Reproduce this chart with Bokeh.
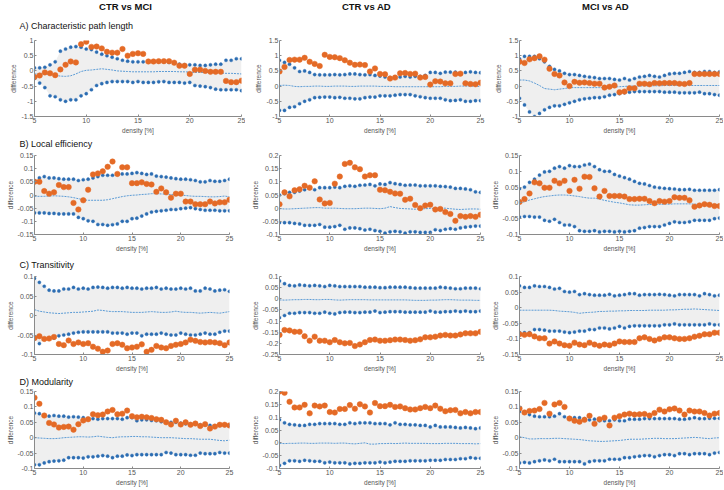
from bokeh.plotting import figure
from bokeh.layouts import column, row
from bokeh.models import Range1d, FixedTicker
from bokeh.core.properties import value
from bokeh.embed import file_html
from bokeh.resources import INLINE

# ---------------- data ----------------
DENSITY = [5, 5.5, 6, 6.5, 7, 7.5, 8, 8.5, 9, 9.5,
           10, 10.5, 11, 11.5, 12, 12.5, 13, 13.5, 14, 14.5,
           15, 15.5, 16, 16.5, 17, 17.5, 18, 18.5, 19, 19.5,
           20, 20.5, 21, 21.5, 22, 22.5, 23, 23.5, 24, 24.5, 25]
X_TICKS = [5, 10, 15, 20, 25]
COL_TITLES = ["CTR vs MCI", "CTR vs AD", "MCI vs AD"]
ROW_TITLES = ["A) Characteristic path length", "B) Local efficiency", "C) Transitivity", "D) Modularity"]

# A) Characteristic path length
A1_OBS = [-0.20, -0.15, -0.05, -0.08, -0.14, 0.05, 0.20, 0.31, 0.28, 0.88,
          0.96, 0.79, 0.80, 0.74, 0.63, 0.60, 0.60, 0.72, 0.50, 0.56,
          0.58, 0.56, 0.31, 0.31, 0.32, 0.32, 0.32, 0.27, 0.17, 0.17,
          -0.10, 0.04, 0.04, 0.00, -0.03, -0.03, -0.03, -0.33, -0.37, -0.37, -0.32]
A1_UP = [0.10, 0.10, 0.12, 0.20, 0.30, 0.65, 0.72, 0.78, 0.80, 0.78,
         0.72, 0.70, 0.62, 0.55, 0.50, 0.45, 0.40, 0.35, 0.32, 0.30,
         0.30, 0.30, 0.30, 0.30, 0.30, 0.30, 0.28, 0.26, 0.22, 0.20,
         0.20, 0.20, 0.18, 0.18, 0.20, 0.22, 0.22, 0.35, 0.35, 0.40, 0.40]
A1_LO = [-0.25, -0.40, -0.55, -0.82, -0.85, -0.95, -1.00, -0.95, -0.95, -0.82,
         -0.75, -0.62, -0.48, -0.42, -0.38, -0.35, -0.35, -0.35, -0.35, -0.38,
         -0.35, -0.38, -0.38, -0.38, -0.36, -0.35, -0.38, -0.38, -0.38, -0.40,
         -0.38, -0.48, -0.50, -0.52, -0.55, -0.60, -0.62, -0.62, -0.62, -0.62, -0.65]
A1_MEAN = [-0.10, -0.10, -0.10, -0.12, -0.15, -0.17, -0.18, -0.16, -0.10, -0.02,
           0.02, 0.03, 0.05, 0.07, 0.05, 0.03, 0.00, -0.01, -0.02, -0.03,
           -0.03, -0.03, -0.03, -0.03, -0.02, -0.02, -0.02, -0.02, -0.03, -0.03,
           -0.04, -0.05, -0.05, -0.05, -0.06, -0.06, -0.07, -0.08, -0.08, -0.09, -0.10]

A2_OBS = [0.48, 0.63, 0.86, 0.87, 0.87, 0.93, 0.80, 0.73, 0.66, 1.03,
          0.96, 0.95, 0.92, 0.85, 0.77, 0.70, 0.71, 0.69, 0.48, 0.58,
          0.40, 0.39, 0.25, 0.28, 0.42, 0.43, 0.40, 0.41, 0.28, 0.30,
          0.05, 0.16, 0.15, 0.09, 0.09, 0.40, 0.41, 0.09, 0.07, 0.06, 0.11]
A2_UP = [0.85, 0.78, 0.72, 0.60, 0.48, 0.50, 0.45, 0.38, 0.37, 0.37,
         0.37, 0.38, 0.37, 0.38, 0.40, 0.40, 0.38, 0.37, 0.38, 0.35,
         0.33, 0.30, 0.28, 0.30, 0.30, 0.32, 0.30, 0.32, 0.32, 0.35,
         0.45, 0.45, 0.42, 0.46, 0.46, 0.46, 0.42, 0.45, 0.47, 0.45, 0.44]
A2_LO = [-0.80, -0.80, -0.70, -0.68, -0.58, -0.50, -0.45, -0.38, -0.37, -0.36,
         -0.36, -0.38, -0.37, -0.40, -0.40, -0.42, -0.42, -0.38, -0.36, -0.36,
         -0.32, -0.32, -0.32, -0.30, -0.28, -0.28, -0.28, -0.32, -0.35, -0.38,
         -0.40, -0.40, -0.40, -0.45, -0.48, -0.47, -0.45, -0.50, -0.50, -0.48, -0.48]
A2_MEAN = [0.02, 0.03, 0.02, -0.01, -0.02, -0.01, -0.01, 0.00, 0.00, -0.01,
           -0.01, 0.00, 0.00, 0.00, -0.01, -0.01, 0.00, 0.00, 0.00, 0.00,
           -0.01, -0.01, -0.01, -0.02, -0.02, -0.02, -0.02, -0.02, -0.02, -0.02,
           -0.02, -0.02, -0.02, -0.01, -0.01, -0.01, 0.00, 0.00, 0.00, -0.01, -0.01]

A3_OBS = [0.80, 0.76, 0.88, 0.92, 0.98, 0.87, 0.57, 0.40, 0.35, 0.12,
          0.00, 0.14, 0.11, 0.12, 0.10, 0.08, 0.08, -0.05, -0.02, 0.02,
          -0.20, -0.18, -0.07, -0.07, 0.08, 0.08, 0.06, 0.10, 0.09, 0.10,
          0.10, 0.10, 0.08, 0.07, 0.10, 0.40, 0.40, 0.40, 0.40, 0.40, 0.40]
A3_UP = [0.90, 0.98, 0.98, 0.98, 0.90, 0.80, 0.65, 0.55, 0.50, 0.42,
         0.38, 0.38, 0.35, 0.32, 0.30, 0.28, 0.25, 0.25, 0.25, 0.22,
         0.20, 0.25, 0.20, 0.25, 0.30, 0.32, 0.35, 0.32, 0.30, 0.35,
         0.40, 0.42, 0.42, 0.45, 0.48, 0.45, 0.45, 0.48, 0.48, 0.45, 0.47]
A3_LO = [-0.40, -0.62, -0.85, -1.00, -0.90, -0.78, -0.70, -0.65, -0.65, -0.60,
         -0.55, -0.50, -0.45, -0.42, -0.40, -0.38, -0.38, -0.35, -0.30, -0.28,
         -0.25, -0.22, -0.20, -0.18, -0.18, -0.18, -0.18, -0.18, -0.18, -0.20,
         -0.20, -0.20, -0.22, -0.22, -0.22, -0.22, -0.20, -0.25, -0.25, -0.28, -0.30]
A3_MEAN = [0.20, 0.20, 0.17, 0.10, 0.02, -0.08, -0.10, -0.12, -0.10, -0.08,
           -0.05, -0.05, -0.05, -0.05, -0.05, -0.05, -0.05, -0.04, -0.04, -0.03,
           -0.02, -0.01, 0.00, 0.00, 0.00, 0.01, 0.01, 0.01, 0.01, 0.02,
           0.02, 0.02, 0.02, 0.02, 0.02, 0.02, 0.02, 0.02, 0.02, 0.02, 0.02]

# B) Local efficiency
B1_OBS = [0.050, 0.050, 0.015, 0.005, 0.010, 0.038, 0.030, 0.030, -0.030, -0.055,
          -0.020, 0.020, 0.078, 0.082, 0.090, 0.107, 0.127, 0.080, 0.105, 0.105,
          0.045, 0.045, 0.048, 0.042, 0.040, 0.012, 0.025, 0.010, -0.010, 0.005,
          0.005, -0.025, -0.025, -0.035, -0.035, -0.035, -0.025, -0.032, -0.028, -0.028, -0.018]
B1_UP = [0.055, 0.065, 0.070, 0.065, 0.065, 0.062, 0.060, 0.060, 0.060, 0.055,
         0.058, 0.060, 0.065, 0.070, 0.075, 0.075, 0.075, 0.078, 0.080, 0.080,
         0.082, 0.085, 0.082, 0.078, 0.080, 0.072, 0.070, 0.068, 0.065, 0.062,
         0.060, 0.060, 0.058, 0.055, 0.050, 0.050, 0.055, 0.052, 0.052, 0.055, 0.060]
B1_LO = [-0.068, -0.068, -0.068, -0.070, -0.070, -0.072, -0.072, -0.072, -0.072, -0.085,
         -0.090, -0.098, -0.100, -0.112, -0.112, -0.115, -0.113, -0.110, -0.100, -0.100,
         -0.090, -0.088, -0.080, -0.072, -0.065, -0.062, -0.060, -0.058, -0.055, -0.055,
         -0.052, -0.050, -0.048, -0.052, -0.055, -0.058, -0.058, -0.058, -0.060, -0.060, -0.060]
B1_MEAN = [-0.005, -0.005, -0.005, -0.004, -0.003, -0.004, -0.005, -0.007, -0.010, -0.014,
           -0.018, -0.020, -0.020, -0.020, -0.020, -0.018, -0.014, -0.010, -0.006, -0.003,
           -0.001, 0.000, 0.002, 0.003, 0.005, 0.005, 0.004, 0.003, 0.002, 0.000,
           0.000, -0.002, -0.004, -0.005, -0.005, -0.006, -0.007, -0.007, -0.006, -0.004, -0.007]

B2_OBS = [0.015, 0.060, 0.045, 0.068, 0.072, 0.085, 0.078, 0.102, 0.033, 0.018,
          0.020, 0.093, 0.120, 0.168, 0.172, 0.155, 0.148, 0.120, 0.125, 0.125,
          0.070, 0.068, 0.062, 0.056, 0.055, 0.032, 0.036, 0.012, 0.000, 0.010,
          0.013, -0.005, -0.003, -0.015, -0.022, -0.048, -0.030, -0.033, -0.030, -0.033, -0.025]
B2_UP = [0.050, 0.055, 0.060, 0.060, 0.065, 0.070, 0.075, 0.070, 0.078, 0.078,
         0.078, 0.080, 0.078, 0.083, 0.085, 0.083, 0.087, 0.088, 0.090, 0.085,
         0.092, 0.090, 0.097, 0.093, 0.090, 0.087, 0.088, 0.088, 0.085, 0.085,
         0.085, 0.085, 0.083, 0.082, 0.080, 0.075, 0.075, 0.073, 0.070, 0.062, 0.060]
B2_LO = [-0.055, -0.055, -0.055, -0.058, -0.060, -0.065, -0.065, -0.065, -0.062, -0.072,
         -0.072, -0.070, -0.065, -0.080, -0.075, -0.075, -0.078, -0.083, -0.080, -0.085,
         -0.088, -0.095, -0.090, -0.088, -0.090, -0.095, -0.090, -0.090, -0.092, -0.092,
         -0.092, -0.082, -0.085, -0.080, -0.078, -0.080, -0.075, -0.072, -0.070, -0.068, -0.068]
B2_MEAN = [-0.002, -0.003, -0.003, -0.002, -0.001, 0.000, 0.001, 0.002, 0.002, 0.000,
           0.000, 0.000, -0.001, -0.002, -0.002, -0.002, -0.001, 0.000, 0.000, -0.001,
           -0.002, 0.000, 0.006, 0.002, -0.001, -0.002, -0.003, -0.004, -0.003, -0.002,
           -0.001, 0.000, 0.000, 0.000, -0.002, -0.004, -0.005, -0.004, -0.003, -0.003, -0.004]

B3_OBS = [0.003, 0.012, 0.030, 0.065, 0.062, 0.048, 0.048, 0.070, 0.062, 0.070,
          0.038, 0.073, 0.045, 0.083, 0.082, 0.046, 0.020, 0.038, 0.022, 0.022,
          0.022, 0.020, 0.012, 0.012, 0.013, 0.013, 0.006, -0.001, 0.006, 0.004,
          0.006, 0.018, 0.016, 0.016, 0.008, -0.012, -0.008, -0.004, -0.006, -0.010, -0.010]
B3_UP = [0.045, 0.050, 0.065, 0.075, 0.088, 0.098, 0.100, 0.110, 0.115, 0.110,
         0.118, 0.115, 0.115, 0.120, 0.123, 0.115, 0.105, 0.100, 0.100, 0.090,
         0.085, 0.080, 0.075, 0.068, 0.062, 0.060, 0.055, 0.050, 0.048, 0.046,
         0.045, 0.044, 0.042, 0.042, 0.043, 0.040, 0.040, 0.040, 0.040, 0.040, 0.042]
B3_LO = [-0.045, -0.043, -0.043, -0.045, -0.045, -0.055, -0.058, -0.052, -0.062, -0.070,
         -0.070, -0.075, -0.088, -0.090, -0.090, -0.088, -0.092, -0.090, -0.090, -0.092,
         -0.090, -0.092, -0.090, -0.088, -0.080, -0.078, -0.075, -0.075, -0.075, -0.070,
         -0.065, -0.060, -0.062, -0.062, -0.060, -0.055, -0.055, -0.055, -0.055, -0.050, -0.048]
B3_MEAN = [-0.001, 0.004, 0.009, 0.013, 0.017, 0.020, 0.022, 0.024, 0.025, 0.025,
           0.024, 0.022, 0.020, 0.017, 0.015, 0.015, 0.012, 0.008, 0.005, 0.002,
           0.000, -0.003, -0.006, -0.007, -0.007, -0.006, -0.005, -0.005, -0.005, -0.004,
           -0.004, -0.003, -0.003, -0.003, -0.003, -0.004, -0.005, -0.005, -0.005, -0.005, -0.005]

# C) Transitivity
C1_OBS = [-0.058, -0.053, -0.060, -0.059, -0.055, -0.073, -0.076, -0.064, -0.073, -0.069,
          -0.073, -0.071, -0.080, -0.085, -0.093, -0.090, -0.073, -0.071, -0.075, -0.084,
          -0.082, -0.080, -0.074, -0.093, -0.088, -0.078, -0.082, -0.084, -0.078, -0.075,
          -0.073, -0.069, -0.062, -0.065, -0.068, -0.069, -0.068, -0.069, -0.071, -0.076, -0.069]
C1_UP = [0.095, 0.085, 0.075, 0.065, 0.063, 0.063, 0.068, 0.068, 0.072, 0.068,
         0.070, 0.068, 0.072, 0.073, 0.072, 0.070, 0.072, 0.072, 0.070, 0.072,
         0.070, 0.070, 0.068, 0.070, 0.070, 0.072, 0.068, 0.070, 0.068, 0.068,
         0.070, 0.068, 0.070, 0.063, 0.063, 0.070, 0.068, 0.063, 0.065, 0.066, 0.062]
C1_LO = [-0.060, -0.072, -0.060, -0.058, -0.058, -0.052, -0.050, -0.048, -0.045, -0.043,
         -0.042, -0.042, -0.042, -0.042, -0.042, -0.042, -0.045, -0.045, -0.045, -0.048,
         -0.045, -0.045, -0.052, -0.048, -0.048, -0.048, -0.045, -0.048, -0.050, -0.050,
         -0.045, -0.048, -0.050, -0.050, -0.048, -0.045, -0.048, -0.048, -0.043, -0.040, -0.040]
C1_MEAN = [0.015, 0.011, 0.009, 0.007, 0.006, 0.005, 0.006, 0.007, 0.008, 0.008,
           0.009, 0.010, 0.011, 0.014, 0.013, 0.011, 0.010, 0.010, 0.010, 0.009,
           0.008, 0.008, 0.008, 0.009, 0.010, 0.009, 0.008, 0.008, 0.009, 0.011,
           0.009, 0.008, 0.008, 0.007, 0.006, 0.007, 0.008, 0.007, 0.006, 0.008, 0.010]

C2_OBS = [-0.162, -0.140, -0.142, -0.148, -0.148, -0.168, -0.188, -0.170, -0.188, -0.188,
          -0.195, -0.185, -0.195, -0.200, -0.198, -0.212, -0.205, -0.195, -0.185, -0.183,
          -0.188, -0.188, -0.186, -0.183, -0.183, -0.185, -0.188, -0.186, -0.182, -0.173,
          -0.173, -0.170, -0.165, -0.162, -0.165, -0.165, -0.160, -0.155, -0.155, -0.155, -0.148]
C2_UP = [0.080, 0.068, 0.060, 0.058, 0.062, 0.060, 0.058, 0.060, 0.058, 0.055,
         0.060, 0.058, 0.055, 0.055, 0.055, 0.055, 0.055, 0.052, 0.052, 0.052,
         0.050, 0.050, 0.052, 0.052, 0.052, 0.052, 0.050, 0.048, 0.048, 0.048,
         0.048, 0.048, 0.052, 0.050, 0.048, 0.045, 0.045, 0.048, 0.048, 0.048, 0.045]
C2_LO = [-0.085, -0.075, -0.065, -0.065, -0.062, -0.062, -0.062, -0.065, -0.065, -0.060,
         -0.065, -0.068, -0.062, -0.060, -0.060, -0.062, -0.062, -0.060, -0.060, -0.055,
         -0.062, -0.060, -0.058, -0.058, -0.058, -0.060, -0.060, -0.060, -0.060, -0.060,
         -0.055, -0.060, -0.060, -0.058, -0.058, -0.055, -0.058, -0.055, -0.058, -0.058, -0.055]
C2_MEAN = [-0.005, -0.006, -0.005, -0.004, -0.004, -0.003, -0.003, -0.004, -0.004, -0.003,
           -0.003, -0.005, -0.006, -0.005, -0.004, -0.004, -0.004, -0.004, -0.005, -0.005,
           -0.005, -0.005, -0.005, -0.005, -0.005, -0.005, -0.006, -0.007, -0.007, -0.007,
           -0.006, -0.006, -0.005, -0.004, -0.004, -0.005, -0.006, -0.006, -0.006, -0.007, -0.007]

C3_OBS = [-0.085, -0.087, -0.085, -0.092, -0.098, -0.098, -0.115, -0.108, -0.115, -0.120,
          -0.122, -0.112, -0.118, -0.120, -0.112, -0.118, -0.122, -0.118, -0.120, -0.115,
          -0.108, -0.110, -0.110, -0.110, -0.098, -0.095, -0.100, -0.105, -0.100, -0.095,
          -0.095, -0.098, -0.100, -0.100, -0.098, -0.093, -0.090, -0.085, -0.085, -0.080, -0.080]
C3_UP = [0.070, 0.065, 0.065, 0.070, 0.068, 0.068, 0.065, 0.060, 0.062, 0.052,
         0.050, 0.052, 0.042, 0.045, 0.042, 0.040, 0.040, 0.040, 0.043, 0.038,
         0.040, 0.042, 0.045, 0.045, 0.040, 0.042, 0.042, 0.042, 0.043, 0.042,
         0.040, 0.038, 0.042, 0.042, 0.042, 0.042, 0.038, 0.045, 0.042, 0.038, 0.040]
C3_LO = [-0.080, -0.080, -0.080, -0.070, -0.070, -0.072, -0.075, -0.075, -0.075, -0.078,
         -0.080, -0.078, -0.075, -0.075, -0.070, -0.070, -0.065, -0.065, -0.068, -0.065,
         -0.060, -0.065, -0.060, -0.058, -0.058, -0.058, -0.058, -0.058, -0.058, -0.055,
         -0.055, -0.052, -0.055, -0.055, -0.055, -0.055, -0.055, -0.055, -0.052, -0.055, -0.055]
C3_MEAN = [-0.008, -0.008, -0.008, -0.008, -0.008, -0.008, -0.008, -0.009, -0.011, -0.012,
           -0.013, -0.015, -0.018, -0.016, -0.015, -0.014, -0.012, -0.012, -0.011, -0.011,
           -0.010, -0.010, -0.009, -0.009, -0.009, -0.009, -0.008, -0.008, -0.008, -0.008,
           -0.007, -0.007, -0.006, -0.005, -0.005, -0.004, -0.005, -0.006, -0.007, -0.008, -0.009]

# D) Modularity
D1_OBS = [0.130, 0.110, 0.072, 0.048, 0.043, 0.033, 0.035, 0.036, 0.026, 0.044,
          0.056, 0.060, 0.076, 0.073, 0.075, 0.085, 0.090, 0.076, 0.078, 0.088,
          0.070, 0.066, 0.068, 0.066, 0.064, 0.060, 0.058, 0.050, 0.043, 0.055,
          0.043, 0.050, 0.042, 0.046, 0.038, 0.044, 0.030, 0.036, 0.042, 0.042, 0.040]
D1_UP = [0.080, 0.078, 0.072, 0.070, 0.072, 0.070, 0.070, 0.067, 0.068, 0.067,
         0.065, 0.062, 0.062, 0.060, 0.062, 0.062, 0.062, 0.062, 0.060, 0.065,
         0.065, 0.055, 0.058, 0.058, 0.056, 0.055, 0.052, 0.050, 0.050, 0.050,
         0.047, 0.045, 0.045, 0.045, 0.042, 0.042, 0.040, 0.038, 0.040, 0.040, 0.040]
D1_LO = [-0.088, -0.088, -0.082, -0.078, -0.076, -0.075, -0.073, -0.065, -0.065, -0.065,
         -0.066, -0.062, -0.062, -0.060, -0.058, -0.060, -0.065, -0.060, -0.060, -0.056,
         -0.058, -0.055, -0.055, -0.055, -0.055, -0.055, -0.055, -0.048, -0.050, -0.055,
         -0.055, -0.055, -0.057, -0.057, -0.050, -0.052, -0.052, -0.052, -0.048, -0.050, -0.050]
D1_MEAN = [0.000, -0.001, -0.002, -0.003, -0.003, -0.002, 0.000, 0.001, 0.002, 0.003,
           0.003, 0.002, 0.003, 0.005, 0.003, 0.001, 0.000, 0.002, 0.003, 0.003,
           0.004, 0.004, 0.003, 0.003, 0.002, 0.001, 0.000, 0.000, 0.000, -0.001,
           -0.002, -0.003, -0.003, -0.004, -0.005, -0.005, -0.005, -0.007, -0.009, -0.010, -0.008]

D2_OBS = [0.200, 0.195, 0.160, 0.138, 0.138, 0.148, 0.115, 0.145, 0.142, 0.145,
          0.120, 0.118, 0.132, 0.132, 0.147, 0.133, 0.150, 0.142, 0.118, 0.155,
          0.143, 0.143, 0.148, 0.140, 0.142, 0.135, 0.130, 0.130, 0.135, 0.140,
          0.135, 0.145, 0.133, 0.123, 0.127, 0.128, 0.115, 0.120, 0.115, 0.120, 0.120]
D2_UP = [0.090, 0.078, 0.072, 0.070, 0.068, 0.068, 0.072, 0.072, 0.075, 0.075,
         0.075, 0.075, 0.072, 0.072, 0.078, 0.075, 0.078, 0.078, 0.078, 0.075,
         0.075, 0.075, 0.070, 0.078, 0.072, 0.072, 0.070, 0.070, 0.068, 0.068,
         0.062, 0.068, 0.062, 0.062, 0.062, 0.060, 0.058, 0.060, 0.058, 0.055, 0.058]
D2_LO = [-0.088, -0.080, -0.070, -0.070, -0.072, -0.068, -0.070, -0.072, -0.072, -0.078,
         -0.075, -0.078, -0.078, -0.078, -0.082, -0.080, -0.080, -0.078, -0.078, -0.078,
         -0.075, -0.078, -0.075, -0.072, -0.072, -0.072, -0.070, -0.070, -0.070, -0.070,
         -0.068, -0.068, -0.068, -0.065, -0.065, -0.065, -0.062, -0.062, -0.058, -0.060, -0.060]
D2_MEAN = [-0.002, -0.003, -0.002, -0.002, -0.001, -0.001, -0.002, -0.002, -0.001, -0.001,
           -0.001, -0.002, -0.001, -0.001, -0.003, -0.004, -0.002, 0.000, -0.005, -0.005,
           -0.003, -0.003, -0.002, -0.003, -0.002, -0.001, -0.002, -0.002, -0.002, -0.002,
           -0.003, -0.003, -0.003, -0.002, -0.002, -0.002, -0.003, -0.003, -0.003, -0.004, -0.003]

D3_OBS = [0.095, 0.082, 0.087, 0.088, 0.093, 0.113, 0.078, 0.108, 0.113, 0.100,
          0.062, 0.055, 0.052, 0.058, 0.071, 0.045, 0.060, 0.065, 0.040, 0.065,
          0.070, 0.075, 0.078, 0.075, 0.076, 0.077, 0.072, 0.080, 0.091, 0.085,
          0.092, 0.095, 0.088, 0.075, 0.088, 0.085, 0.085, 0.080, 0.072, 0.078, 0.080]
D3_UP = [0.085, 0.082, 0.075, 0.070, 0.068, 0.068, 0.068, 0.070, 0.078, 0.068,
         0.065, 0.065, 0.065, 0.062, 0.058, 0.060, 0.055, 0.055, 0.055, 0.058,
         0.055, 0.055, 0.060, 0.060, 0.060, 0.062, 0.062, 0.062, 0.062, 0.062,
         0.062, 0.062, 0.060, 0.060, 0.062, 0.065, 0.062, 0.062, 0.063, 0.063, 0.063]
D3_LO = [-0.082, -0.080, -0.082, -0.078, -0.075, -0.072, -0.075, -0.070, -0.078, -0.078,
         -0.078, -0.078, -0.078, -0.085, -0.078, -0.075, -0.075, -0.075, -0.070, -0.070,
         -0.070, -0.065, -0.065, -0.062, -0.060, -0.058, -0.058, -0.062, -0.058, -0.055,
         -0.055, -0.058, -0.052, -0.052, -0.055, -0.052, -0.052, -0.052, -0.055, -0.050, -0.048]
D3_MEAN = [0.003, 0.000, -0.004, -0.004, -0.003, -0.003, -0.003, -0.002, -0.002, -0.003,
           -0.004, -0.005, -0.006, -0.008, -0.010, -0.011, -0.012, -0.012, -0.011, -0.010,
           -0.009, -0.007, -0.005, -0.005, -0.005, -0.004, -0.003, -0.002, -0.002, -0.003,
           -0.003, -0.003, -0.002, -0.001, 0.000, 0.001, 0.000, -0.002, -0.003, -0.001, 0.000]

# y-axis ticks and their labels per panel
YT_A1 = [-1.5, -1.0, -0.5, 0.0, 0.5, 1.0]
YL_A1 = ["-1.5", "-1", "-0.5", "0", "0.5", "1"]
YT_A23 = [-1.0, -0.5, 0.0, 0.5, 1.0, 1.5]
YL_A23 = ["-1", "-0.5", "0", "0.5", "1", "1.5"]
YT_B1 = [-0.15, -0.1, -0.05, 0.0, 0.05, 0.1, 0.15]
YL_B1 = ["-0.15", "-0.1", "-0.05", "0", "0.05", "0.1", "0.15"]
YT_B2 = [-0.1, -0.05, 0.0, 0.05, 0.1, 0.15, 0.2]
YL_B2 = ["-0.1", "-0.05", "0", "0.05", "0.1", "0.15", "0.2"]
YT_B3 = [-0.1, -0.05, 0.0, 0.05, 0.1, 0.15]
YL_B3 = ["-0.1", "-0.05", "0", "0.05", "0.1", "0.15"]
YT_C1 = [-0.1, -0.05, 0.0, 0.05, 0.1]
YL_C1 = ["-0.1", "-0.05", "0", "0.05", "0.1"]
YT_C2 = [-0.25, -0.2, -0.15, -0.1, -0.05, 0.0, 0.05, 0.1]
YL_C2 = ["-0.25", "-0.2", "-0.15", "-0.1", "-0.05", "0", "0.05", "0.1"]
YT_C3 = [-0.15, -0.1, -0.05, 0.0, 0.05, 0.1]
YL_C3 = ["-0.15", "-0.1", "-0.05", "0", "0.05", "0.1"]
YT_D13 = [-0.1, -0.05, 0.0, 0.05, 0.1, 0.15]
YL_D13 = ["-0.1", "-0.05", "0", "0.05", "0.1", "0.15"]
YT_D2 = [-0.1, -0.05, 0.0, 0.05, 0.1, 0.15, 0.2]
YL_D2 = ["-0.1", "-0.05", "0", "0.05", "0.1", "0.15", "0.2"]

# ---------------- style / layout ----------------
FONT = "Liberation Sans"
BLUE = "#2c6db2"
ORANGE = "#e46a26"
MEAN_C = "#5b9bd5"
FILL = "#efefef"
AX_C = "#8a8a8a"
TXT_C = "#555555"
TOTAL_W = 723
BB = 21
# per column: (left border, frame width, right border)
COLS = [(34, 195, 16), (34, 201, 5), (34, 200, 4)]
COL_A1 = (34, 207, 4)
# per row: (top border, frame height)
ROWS = [(8, 76), (5, 79), (6, 78), (4, 77)]


def panel(up, lo, mean, obs, yt, yl, c, r, cols=None):
    bl, fw, br = cols if cols else COLS[c]
    bt, fh = ROWS[r]
    p = figure(title=None, frame_width=fw, frame_height=fh,
               x_range=Range1d(5, 25), y_range=Range1d(yt[0], yt[-1]),
               min_border_left=bl, min_border_right=br,
               min_border_top=bt, min_border_bottom=BB,
               output_backend="svg", toolbar_location=None)
    p.varea(x=DENSITY, y1=lo, y2=up, fill_color=FILL)
    p.line(DENSITY, mean, line_color=MEAN_C, line_width=1, line_dash="2 1")
    p.scatter(DENSITY, up, size=3.2, fill_color=BLUE, line_color=BLUE, line_width=0.4)
    p.scatter(DENSITY, lo, size=3.2, fill_color=BLUE, line_color=BLUE, line_width=0.4)
    p.scatter(DENSITY, obs, size=5.5, fill_color=ORANGE, line_color=ORANGE, line_width=0.5)
    p.xgrid.visible = False
    p.ygrid.visible = False
    p.outline_line_color = None
    p.xaxis.ticker = FixedTicker(ticks=X_TICKS)
    p.yaxis.ticker = FixedTicker(ticks=yt)
    p.yaxis.major_label_overrides = {t: s for t, s in zip(yt, yl)}
    p.xaxis.axis_label = "density [%]"
    p.yaxis.axis_label = "difference"
    for ax in (p.xaxis[0], p.yaxis[0]):
        ax.axis_line_color = AX_C
        ax.major_tick_line_color = AX_C
        ax.major_tick_in = 2
        ax.major_tick_out = 0
        ax.minor_tick_line_color = None
        ax.major_label_text_font = FONT
        ax.major_label_text_font_size = "7px"
        ax.major_label_text_color = TXT_C
        ax.major_label_standoff = 1
        ax.axis_label_text_font = FONT
        ax.axis_label_text_font_size = "6.5px"
        ax.axis_label_text_font_style = "normal"
        ax.axis_label_text_color = TXT_C
        ax.axis_label_standoff = 1
    return p


def strip(h, items, bold_items=None):
    p = figure(title=None, width=TOTAL_W, height=h,
               x_range=Range1d(0, TOTAL_W), y_range=Range1d(h, 0),
               min_border=0, x_axis_location=None, y_axis_location=None,
               output_backend="svg", toolbar_location=None)
    p.xgrid.visible = False
    p.ygrid.visible = False
    p.outline_line_color = None
    if bold_items:
        p.text(x=[b[0] for b in bold_items], y=[b[1] for b in bold_items],
               text=[b[2] for b in bold_items], text_font=value(FONT),
               text_font_size="9.5px", text_font_style="bold", text_color="#111111",
               text_align="center", text_baseline="middle")
    p.text(x=[i[0] for i in items], y=[i[1] for i in items], text=[i[2] for i in items],
           text_font=value(FONT), text_font_size="9px", text_color="#111111",
           text_align="left", text_baseline="middle")
    return p


pA1 = panel(A1_UP, A1_LO, A1_MEAN, A1_OBS, YT_A1, YL_A1, 0, 0, cols=COL_A1)
pA2 = panel(A2_UP, A2_LO, A2_MEAN, A2_OBS, YT_A23, YL_A23, 1, 0)
pA3 = panel(A3_UP, A3_LO, A3_MEAN, A3_OBS, YT_A23, YL_A23, 2, 0)
pB1 = panel(B1_UP, B1_LO, B1_MEAN, B1_OBS, YT_B1, YL_B1, 0, 1)
pB2 = panel(B2_UP, B2_LO, B2_MEAN, B2_OBS, YT_B2, YL_B2, 1, 1)
pB3 = panel(B3_UP, B3_LO, B3_MEAN, B3_OBS, YT_B3, YL_B3, 2, 1)
pC1 = panel(C1_UP, C1_LO, C1_MEAN, C1_OBS, YT_C1, YL_C1, 0, 2)
pC2 = panel(C2_UP, C2_LO, C2_MEAN, C2_OBS, YT_C2, YL_C2, 1, 2)
pC3 = panel(C3_UP, C3_LO, C3_MEAN, C3_OBS, YT_C3, YL_C3, 2, 2)
pD1 = panel(D1_UP, D1_LO, D1_MEAN, D1_OBS, YT_D13, YL_D13, 0, 3)
pD2 = panel(D2_UP, D2_LO, D2_MEAN, D2_OBS, YT_D2, YL_D2, 1, 3)
pD3 = panel(D3_UP, D3_LO, D3_MEAN, D3_OBS, YT_D13, YL_D13, 2, 3)

head = strip(32, [(19, 25, ROW_TITLES[0])],
             bold_items=[(125, 6, COL_TITLES[0]), (366, 6, COL_TITLES[1]), (605, 6, COL_TITLES[2])])
sB = strip(13, [(19, 6.5, ROW_TITLES[1])])
sC = strip(15, [(19, 9.5, ROW_TITLES[2])])
sD = strip(12, [(19, 6, ROW_TITLES[3])])

layout = column(head, row(pA1, pA2, pA3), sB, row(pB1, pB2, pB3),
                sC, row(pC1, pC2, pC3), sD, row(pD1, pD2, pD3))

open("out.html", "w").write(file_html(layout, INLINE))
